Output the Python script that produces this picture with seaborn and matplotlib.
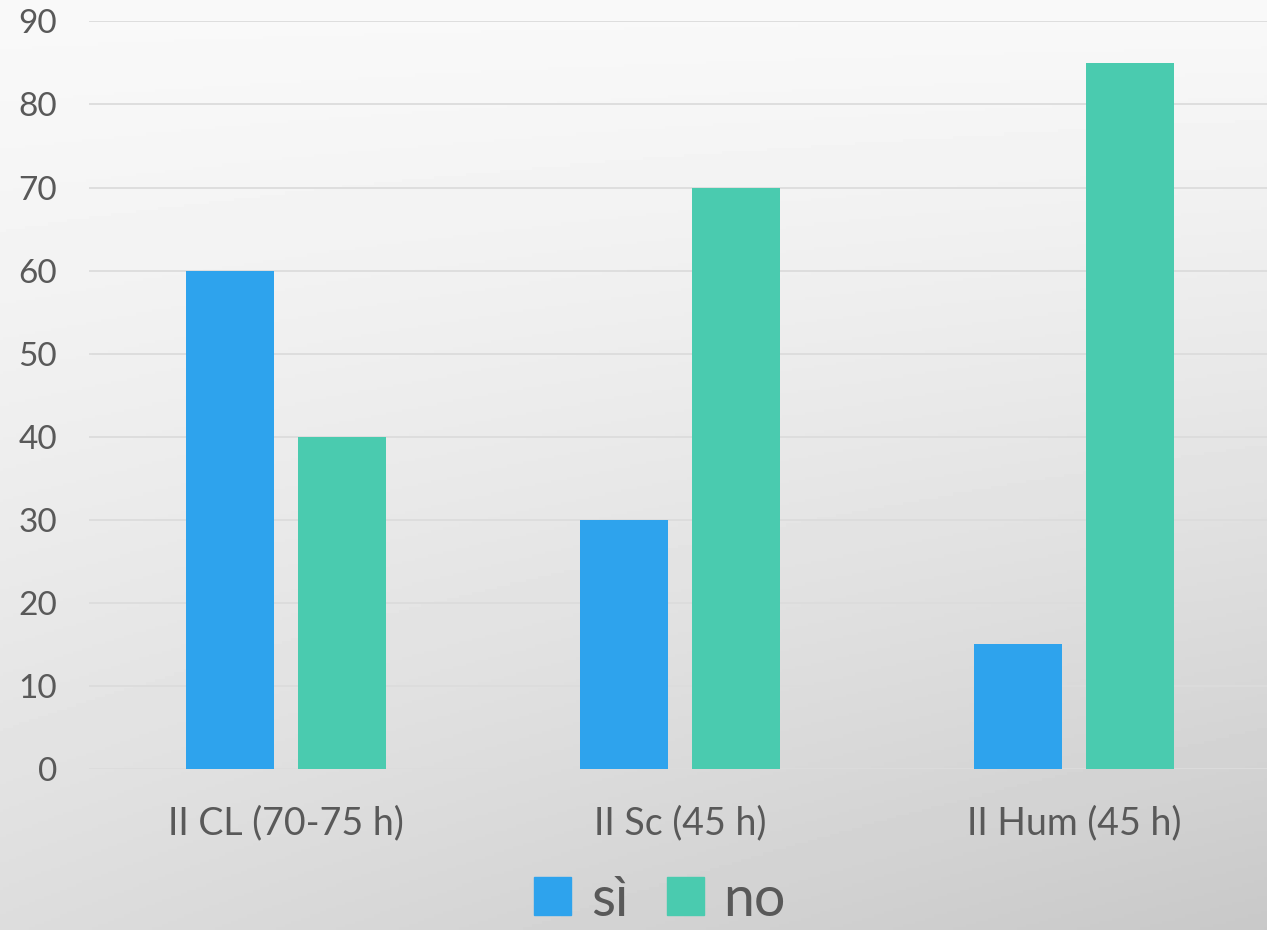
import numpy as np
import pandas as pd
import matplotlib
matplotlib.use('Agg')
import matplotlib.pyplot as plt
import seaborn as sns

# Datos
categorie = ['II CL (70-75 h)', 'II Sc (45 h)', 'II Hum (45 h)']
serie = ['sì', 'no']
valori_si = [60, 30, 15]
valori_no = [40, 70, 85]
colori = ['#2EA3ED', '#4ACBAF']
yticks = [0, 10, 20, 30, 40, 50, 60, 70, 80, 90]

df = pd.DataFrame({
    'classe': categorie * 2,
    'risposta': [serie[0]] * 3 + [serie[1]] * 3,
    'valore': valori_si + valori_no,
})

sns.set_style('white')
plt.rcParams['font.family'] = ['Lato', 'DejaVu Sans']
testo = '#595959'

fig = plt.figure(figsize=(12.67, 9.3), dpi=100)

# sfondo sfumato (chiaro in alto, grigio in basso a destra)
bg = fig.add_axes([0, 0, 1, 1], zorder=-10)
yy, xx = np.mgrid[0:1:300j, 0:1:400j]
grigio = 0.975 - 0.11 * yy ** 1.3 - 0.08 * xx * yy
bg.imshow(grigio, cmap='gray', vmin=0, vmax=1, aspect='auto', extent=[0, 1, 1, 0])
bg.axis('off')

ax = fig.add_axes([0.0702, 0.173, 0.933, 0.804])
ax.patch.set_alpha(0)
sns.barplot(data=df, x='classe', y='valore', hue='risposta', palette=colori,
            saturation=1, width=0.568, gap=0.214, linewidth=0,
            ax=ax, legend=False, zorder=3)

ax.set_ylim(0, 90)
ax.set_yticks(yticks)
ax.set_xlim(-0.5, 2.5)
ax.yaxis.grid(True, color='#DCDCDC', linewidth=1.3, zorder=0)
ax.xaxis.grid(False)
ax.set_axisbelow(True)
for s in ax.spines.values():
    s.set_visible(False)
ax.tick_params(axis='y', length=0, pad=23, labelsize=24, labelcolor=testo)
ax.tick_params(axis='x', length=0, pad=26, labelsize=27, labelcolor=testo)
ax.set_xlabel('')
ax.set_ylabel('')

# legenda
handles = [plt.Rectangle((0, 0), 1, 1, color=c) for c in colori]
fig.legend(handles, serie, loc='center', bbox_to_anchor=(660 / 1267, 1 - 900 / 930),
           ncol=2, frameon=False, fontsize=40, labelcolor=testo,
           handlelength=0.67, handleheight=0.67, handletextpad=0.35,
           columnspacing=0.7, borderpad=0, borderaxespad=0)

fig.savefig('out.png', dpi=100)
